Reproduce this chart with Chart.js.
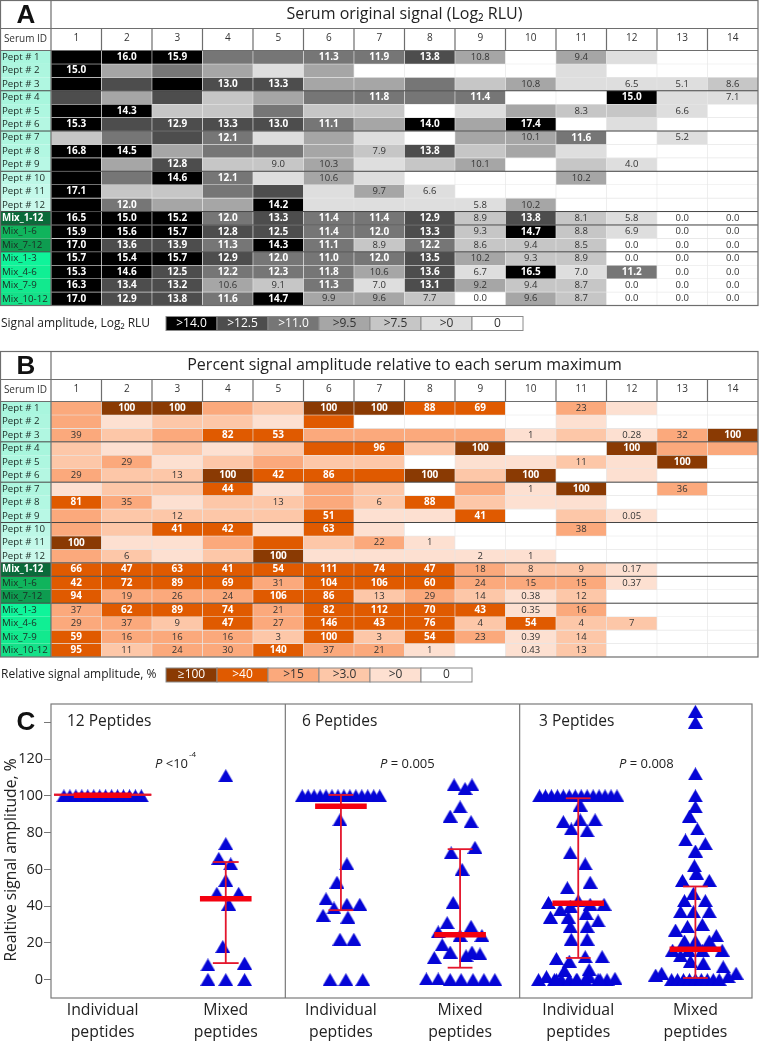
<!DOCTYPE html>
<html>
<head>
<meta charset="utf-8">
<title>Serum signal</title>
<script src="https://cdn.jsdelivr.net/npm/chart.js@4"></script>
<style>
  body { margin: 0; background: #fff; }
  canvas { position: absolute; left: 0; }
</style>
</head>
<body>
<canvas id="tableA" width="760" height="345" style="top:0"></canvas>
<canvas id="tableB" width="760" height="345" style="top:345px"></canvas>
<canvas id="swarm" width="760" height="351" style="top:690px"></canvas>
<script>
const serumIds = ['1','2','3','4','5','6','7','8','9','10','11','12','13','14']
const rowLabels = ['Pept # 1','Pept # 2','Pept # 3','Pept # 4','Pept # 5','Pept # 6','Pept # 7','Pept # 8','Pept # 9','Pept # 10','Pept # 11','Pept # 12',
  'Mix_1-12','Mix_1-6','Mix_7-12','Mix_1-3','Mix_4-6','Mix_7-9','Mix_10-12']
const rowColors = ['#a9f6de','#adf6df','#b0f7e1','#a8f6dd','#aef7e0','#b4f7e2','#aef6df','#b2f7e2','#b8f8e5','#bdf8e7','#c4f9ea','#caf9ec',
  '#0a6b3a','#10b45c','#0e9c50','#0ff49a','#10ef94','#12e98e','#14e088']

// grey class of each cell, 6 = black ... 0 = white
const tiersA = [
  [6,6,6,4,4,4,4,5,3,0,3,1,0,0],
  [6,3,4,3,1,3,0,0,0,0,1,0,0,0],
  [6,5,6,5,5,3,3,4,2,3,1,1,1,2],
  [5,3,5,2,3,4,4,4,4,0,0,6,1,1],
  [6,6,2,2,4,2,2,0,1,3,2,2,1,0],
  [6,5,5,5,5,4,3,6,3,6,0,1,0,0],
  [2,4,5,4,1,3,1,0,3,3,4,0,1,0],
  [6,6,3,4,4,3,2,5,2,3,1,0,0,0],
  [6,3,5,2,2,3,1,2,3,0,2,1,0,0],
  [6,4,6,4,1,3,1,0,0,0,3,0,0,0],
  [6,2,2,4,5,1,3,1,0,0,0,0,0,0],
  [6,4,3,3,6,1,1,1,1,3,0,0,0,0],
  [6,6,6,4,5,4,4,5,2,5,2,1,0,0],
  [6,6,6,5,5,4,4,5,2,6,2,1,0,0],
  [6,5,5,4,6,4,2,4,2,2,2,0,0,0],
  [6,6,6,5,4,4,4,5,3,2,2,0,0,0],
  [6,6,5,4,4,4,3,5,1,6,1,4,0,0],
  [6,5,5,3,2,4,1,5,3,2,2,0,0,0],
  [6,5,5,4,6,3,3,2,0,3,2,0,0,0]
]
const valuesA = [
  ['','16.0','15.9','','','11.3','11.9','13.8','10.8','','9.4','','',''],
  ['15.0','','','','','','','','','','','','',''],
  ['','','','13.0','13.3','','','','','10.8','','6.5','5.1','8.6'],
  ['','','','','','','11.8','','11.4','','','15.0','','7.1'],
  ['','14.3','','','','','','','','','8.3','','6.6',''],
  ['15.3','','12.9','13.3','13.0','11.1','','14.0','','17.4','','','',''],
  ['','','','12.1','','','','','','10.1','11.6','','5.2',''],
  ['16.8','14.5','','','','','7.9','13.8','','','','','',''],
  ['','','12.8','','9.0','10.3','','','10.1','','','4.0','',''],
  ['','','14.6','12.1','','10.6','','','','','10.2','','',''],
  ['17.1','','','','','','9.7','6.6','','','','','',''],
  ['','12.0','','','14.2','','','','5.8','10.2','','','',''],
  ['16.5','15.0','15.2','12.0','13.3','11.4','11.4','12.9','8.9','13.8','8.1','5.8','0.0','0.0'],
  ['15.9','15.6','15.7','12.8','12.5','11.4','12.0','13.3','9.3','14.7','8.8','6.9','0.0','0.0'],
  ['17.0','13.6','13.9','11.3','14.3','11.1','8.9','12.2','8.6','9.4','8.5','0.0','0.0','0.0'],
  ['15.7','15.4','15.7','12.9','12.0','11.0','12.0','13.5','10.2','9.3','8.9','0.0','0.0','0.0'],
  ['15.3','14.6','12.5','12.2','12.3','11.8','10.6','13.6','6.7','16.5','7.0','11.2','0.0','0.0'],
  ['16.3','13.4','13.2','10.6','9.1','11.3','7.0','13.1','9.2','9.4','8.7','0.0','0.0','0.0'],
  ['17.0','12.9','13.8','11.6','14.7','9.9','9.6','7.7','0.0','9.6','8.7','0.0','0.0','0.0']
]
const colorsA = ['#ffffff','#dedede','#c6c6c6','#a6a6a6','#767676','#4d4d4d','#000000']
const legendA = ['0','>0','>7.5','>9.5','>11.0','>12.5','>14.0']

const tiersB = [
  [3,5,5,3,2,5,5,4,4,0,3,1,0,0],
  [3,1,2,2,1,4,0,0,0,0,1,0,0,0],
  [3,2,3,4,4,3,3,3,3,1,2,1,3,5],
  [2,1,2,1,2,4,4,2,5,0,0,5,3,3],
  [2,3,1,2,3,2,2,0,1,1,2,1,5,0],
  [3,2,2,5,4,4,4,5,2,5,0,1,0,0],
  [1,2,2,4,1,3,2,0,3,1,5,0,3,0],
  [4,3,1,2,2,3,2,4,2,1,1,0,0,0],
  [3,2,2,2,2,4,1,1,4,0,2,1,0,0],
  [3,2,4,4,1,4,1,0,0,0,3,0,0,0],
  [5,1,1,3,4,2,3,1,0,0,0,0,0,0],
  [3,2,1,2,5,1,1,1,1,1,0,0,0,0],
  [4,4,4,4,4,4,4,4,3,2,2,1,0,0],
  [4,4,4,4,3,4,4,4,3,3,3,1,0,0],
  [4,3,3,3,4,4,2,3,2,1,2,0,0,0],
  [3,4,4,4,3,4,4,4,4,1,3,0,0,0],
  [3,3,2,4,3,4,4,4,2,4,2,2,0,0],
  [4,3,3,3,2,4,2,4,3,1,2,0,0,0],
  [4,2,3,3,4,3,3,1,0,1,2,0,0,0]
]
const valuesB = [
  ['','100','100','','','100','100','88','69','','23','','',''],
  ['','','','','','','','','','','','','',''],
  ['39','','','82','53','','','','','1','','0.28','32','100'],
  ['','','','','','','96','','100','','','100','',''],
  ['','29','','','','','','','','','11','','100',''],
  ['29','','13','100','42','86','','100','','100','','','',''],
  ['','','','44','','','','','','1','100','','36',''],
  ['81','35','','','13','','6','88','','','','','',''],
  ['','','12','','','51','','','41','','','0.05','',''],
  ['','','41','42','','63','','','','','38','','',''],
  ['100','','','','','','22','1','','','','','',''],
  ['','6','','','100','','','','2','1','','','',''],
  ['66','47','63','41','54','111','74','47','18','8','9','0.17','',''],
  ['42','72','89','69','31','104','106','60','24','15','15','0.37','',''],
  ['94','19','26','24','106','86','13','29','14','0.38','12','','',''],
  ['37','62','89','74','21','82','112','70','43','0.35','16','','',''],
  ['29','37','9','47','27','146','43','76','4','54','4','7','',''],
  ['59','16','16','16','3','100','3','54','23','0.39','14','','',''],
  ['95','11','24','30','140','37','21','1','','0.43','13','','','']
]
const colorsB = ['#ffffff','#fde0d1','#fdc7a8','#fba97c','#e05a00','#8a3a03']
const legendB = ['0','>0','>3.0','>15','>40','≥100']

// swarm values, one pair of lists per group, offsets are sideways spread
const topRow = [100,100,100,100,100,100,100,100,100,100,100,100,100,100]
const topRowOffsets = [-39,-33,-27,-21,-15,-9,-3,3,9,15,21,27,33,39]

const mixed12 = [111,74,66,63,54,47,47,41,18,8,9,0.17,0,0]
const mixed12Offsets = [0,0,-7,5,0,-9,13,3,-3,-18,19,-18,0,19]

const indiv6 = [87,63,53,44,39,41,41,35,34,22,22,0,0,0]
const indiv6Offsets = [-1,6,-4,-15,-7,6,19,-18,7,-1,13,-11,5,22]

const mixed6 = [106,106,104,94,89,86,72,69,60,42,31,29,26,24,24,19,15,15,14,13,12,0.38,0.37,0,0,0,0,0]
const mixed6Offsets = [-6,12,5,0,-10,11,15,-9,2,-7,-13,11,-22,22,0,-18,-10,12,20,6,-26,-34,-22,-10,1,13,24,35]

const indiv3 = [95,87,86,87,82,81,69,63,53,50,43,42,41,41,40,38,36,34,34,32,29,29,22,22,12.5,12.5,11.5,10,5.5,5,1.6,1.6,0.7,0,0,0,0,0,0,0,0,0,0,0]
const indiv3Offsets = [2,17,-15,2,-7,9,-8,7,12,-11,0,-30,26,12,-8,-18,8,-28,-10,20,-8,9,-7,9,24,7,-22,-9,11,-14,-32,11,37,-40,-24,-17,-9,-1,7,20,29,-22,-2,22]

const mixed3 = [146,140,112,100,94,89,82,76,74,70,62,58,54,54,47,43,43,37,37,37,30,29,27,24,21,21,21,16,16,16,16,13,10,9,7,3.5,3.5,2.5,1.6,0,0,0,0,0,0,0,0,0]
const mixed3Offsets = [0,0,0,0,0,-6,2,-10,10,0,-1,1,-13,14,-2,-11,10,-15,-2,14,7,-8,-20,21,-11,0,14,-23,-7,7,27,-15,-5,8,28,-34,41,-40,33,-24,-18,-12,-6,0,6,12,18,24]

const groupValues = [topRow, mixed12, topRow.concat(indiv6), mixed6, topRow.concat(indiv3), mixed3]
const groupOffsets = [topRowOffsets, mixed12Offsets, topRowOffsets.concat(indiv6Offsets), mixed6Offsets, topRowOffsets.concat(indiv3Offsets), mixed3Offsets]
const groupCenters = [52,176,292,412,531,649]
const groupLabels = [['Individual','peptides'],['Mixed','peptides']]

const medians = [100.3,44,94.4,24.4,41.6,16.5]
const upper = [100.6,64,100.5,71,98.7,50.7]
const lower = [100.6,9,37.8,6.5,11.8,0.9]
const yTicks = [0,20,40,60,80,100,120,140]

const fontFamily = '"Open Sans", sans-serif'

const tableFrame = {
  id: 'tableFrame',
  beforeDraw(chart, args, opts) {
    const { ctx, chartArea: a, scales } = chart
    rowColors.forEach((c, i) => {
      const y0 = scales.y.getPixelForValue(i)
      const y1 = scales.y.getPixelForValue(i + 1)
      ctx.fillStyle = c
      ctx.fillRect(0, y0, a.left, y1 - y0)
    })
  },
  afterDatasetsDraw(chart, args, opts) {
    const { ctx, scales } = chart
    ctx.save()
    ctx.textAlign = 'center'
    ctx.textBaseline = 'middle'
    opts.values.forEach((row, r) => {
      row.forEach((txt, c) => {
        if (!txt) return
        const light = opts.tiers[r][c] >= opts.whiteFrom
        ctx.font = (light ? 'bold 10px ' : '9.5px ') + fontFamily
        ctx.fillStyle = light ? '#fff' : '#333'
        ctx.fillText(txt, scales.x.getPixelForValue(c), scales.y.getPixelForValue(r + 0.5))
      })
    })
    ctx.restore()
  },
  afterDraw(chart, args, opts) {
    const { ctx, chartArea: a, scales } = chart
    const frameTop = a.top - 50
    const headBottom = a.top - 22
    ctx.save()

    // heavier lines between peptide groups
    ctx.strokeStyle = '#444'
    ctx.lineWidth = 1
    ;[3,6,9,12,13,15].forEach(r => {
      const y = scales.y.getPixelForValue(r)
      ctx.beginPath(); ctx.moveTo(0, y); ctx.lineTo(a.right, y); ctx.stroke()
    })

    ctx.strokeStyle = '#6e6e6e'
    ctx.lineWidth = 1.2
    ctx.strokeRect(0.5, frameTop, a.right - 0.5, a.bottom - frameTop)
    ctx.beginPath()
    ctx.moveTo(a.left, frameTop); ctx.lineTo(a.left, a.bottom)
    ctx.moveTo(0, headBottom); ctx.lineTo(a.right, headBottom)
    ctx.moveTo(0, a.top); ctx.lineTo(a.right, a.top)
    serumIds.forEach((s, i) => {
      if (i === 0) return
      const x = (scales.x.getPixelForValue(i - 1) + scales.x.getPixelForValue(i)) / 2
      ctx.moveTo(x, headBottom); ctx.lineTo(x, a.top)
    })
    ctx.stroke()

    ctx.fillStyle = '#111'
    ctx.textAlign = 'center'
    ctx.textBaseline = 'middle'
    ctx.font = 'bold 26px "Liberation Sans", sans-serif'
    ctx.fillText(opts.letter, 26, frameTop + 15)
    ctx.font = '16px ' + fontFamily
    ctx.fillStyle = '#222'
    ctx.fillText(opts.title, (a.left + a.right) / 2, frameTop + 14)
    ctx.font = '10px ' + fontFamily
    ctx.fillStyle = '#333'
    ctx.fillText('Serum ID', 25.5, a.top - 11)

    // legend strip under the table
    ctx.textAlign = 'left'
    ctx.font = '12px ' + fontFamily
    ctx.fillStyle = '#222'
    ctx.fillText(opts.legendTitle, 1, a.bottom + 18)
    ctx.textAlign = 'center'
    const n = opts.legend.length
    for (let i = 0; i < n; i++) {
      const t = n - 1 - i
      const x = 166 + i * 51
      ctx.fillStyle = opts.colors[t]
      ctx.fillRect(x, a.bottom + 11, 51, 14)
      ctx.strokeStyle = '#8a8a8a'
      ctx.lineWidth = 1
      ctx.strokeRect(x, a.bottom + 11, 51, 14)
      ctx.fillStyle = t >= opts.whiteFrom ? '#fff' : '#333'
      ctx.fillText(opts.legend[t], x + 25.5, a.bottom + 18)
    }
    ctx.restore()
  }
}

function heatConfig(tiers, values, colors, legend, whiteFrom, letter, title, legendTitle, topPad, bottomPad) {
  return {
    type: 'bar',
    data: {
      labels: serumIds,
      datasets: tiers.map((row, r) => ({
        data: row.map(() => [r, r + 1]),
        backgroundColor: row.map(t => colors[t]),
        borderColor: '#e6e6e6',
        borderWidth: 0.6,
        borderSkipped: false,
        grouped: false,
        categoryPercentage: 1,
        barPercentage: 1
      }))
    },
    plugins: [tableFrame],
    options: {
      responsive: false,
      animation: false,
      devicePixelRatio: 1,
      events: [],
      layout: { padding: { left: 2, right: 2, top: topPad, bottom: bottomPad } },
      plugins: {
        legend: { display: false },
        tooltip: { enabled: false },
        tableFrame: { tiers, values, colors, legend, whiteFrom, letter, title, legendTitle }
      },
      scales: {
        x: {
          position: 'top',
          grid: { display: false, drawTicks: false },
          border: { display: false },
          afterFit: s => { s.height = 22 },
          ticks: { color: '#333', padding: 6, maxRotation: 0, autoSkip: false, font: { size: 10, family: fontFamily } }
        },
        y: {
          min: 0,
          max: 19,
          reverse: true,
          grid: { display: false },
          border: { display: false },
          afterBuildTicks: a => { a.ticks = rowLabels.map((l, i) => ({ value: i + 0.5 })) },
          afterFit: s => { s.width = 49 },
          ticks: {
            autoSkip: false,
            crossAlign: 'far',
            padding: 0,
            color: c => (c.index === 12 ? '#fff' : '#1c2b24'),
            font: c => ({ size: 9.7, family: fontFamily, weight: c.index === 12 ? 'bold' : 'normal' }),
            callback: v => rowLabels[v - 0.5]
          }
        }
      }
    }
  }
}

new Chart(document.getElementById('tableA'), heatConfig(tiersA, valuesA, colorsA, legendA, 4, 'A',
  'Serum original signal (Log₂ RLU)', 'Signal amplitude, Log₂ RLU', 28.5, 39.5))
new Chart(document.getElementById('tableB'), heatConfig(tiersB, valuesB, colorsB, legendB, 4, 'B',
  'Percent signal amplitude relative to each serum maximum', 'Relative signal amplitude, %', 34.5, 33))

// triangle marker, centred on its own box like the original symbols
const tri = document.createElement('canvas')
tri.width = 15
tri.height = 13
const triCtx = tri.getContext('2d')
triCtx.fillStyle = '#0505d6'
triCtx.beginPath()
triCtx.moveTo(7.5, 0); triCtx.lineTo(15, 13); triCtx.lineTo(0, 13)
triCtx.closePath()
triCtx.fill()

const capHalf = [49,13,12.5,12.5,12.5,12.5]
const medianHalf = [29,26,26,26,26,26]
const swarmSets = []
groupCenters.forEach((c, g) => {
  const redLine = (pts, w) => ({
    data: pts, showLine: true, pointRadius: 0, borderColor: w > 3 ? '#f4000f' : '#e4162c', borderWidth: w, order: 0
  })
  swarmSets.push(redLine([{ x: c - medianHalf[g], y: medians[g] }, { x: c + medianHalf[g], y: medians[g] }], 5.5))
  swarmSets.push(redLine([{ x: c, y: lower[g] }, { x: c, y: upper[g] }], 1.8))
  swarmSets.push(redLine([{ x: c - capHalf[g], y: upper[g] }, { x: c + capHalf[g], y: upper[g] }], 1.8))
  swarmSets.push(redLine([{ x: c - capHalf[g], y: lower[g] }, { x: c + capHalf[g], y: lower[g] }], 1.8))
  swarmSets.push({
    data: groupValues[g].map((v, i) => ({ x: c + groupOffsets[g][i], y: v })),
    pointStyle: tri,
    pointRadius: 7,
    order: 1
  })
})

const panelNotes = {
  id: 'panelNotes',
  afterDraw(chart) {
    const { ctx, chartArea: a, scales } = chart
    ctx.save()
    ctx.strokeStyle = '#7a7a7a'
    ctx.lineWidth = 1.2
    ctx.strokeRect(a.left, a.top, a.right - a.left, a.bottom - a.top)
    ctx.beginPath()
    ;[236,472].forEach(v => {
      const x = scales.x.getPixelForValue(v)
      ctx.moveTo(x, a.top); ctx.lineTo(x, a.bottom)
    })
    ctx.stroke()

    ctx.fillStyle = '#111'
    ctx.textBaseline = 'middle'
    ctx.font = 'bold 26px "Liberation Sans", sans-serif'
    ctx.textAlign = 'center'
    ctx.fillText('C', 26, 33)

    // axis title sits a little below the axis middle in the original
    ctx.fillStyle = '#222'
    ctx.font = '15.7px ' + fontFamily
    ctx.save()
    ctx.translate(12, 170)
    ctx.rotate(-Math.PI / 2)
    ctx.fillText('Realtive signal amplitude, %', 0, 0)
    ctx.restore()

    ctx.textAlign = 'left'
    ctx.font = '15.5px ' + fontFamily
    ctx.fillText('12 Peptides', 67, 32)
    ctx.fillText('6 Peptides', 302, 32)
    ctx.fillText('3 Peptides', 539, 32)

    const pText = (x, rest) => {
      ctx.font = 'italic 13px ' + fontFamily
      ctx.fillText('P', x, 74)
      const w = ctx.measureText('P ').width
      ctx.font = '13px ' + fontFamily
      ctx.fillText(rest, x + w, 74)
      return x + w + ctx.measureText(rest).width
    }
    const end = pText(155, '<10')
    ctx.font = '8px ' + fontFamily
    ctx.fillText('-4', end + 1, 65)
    pText(380, '= 0.005')
    pText(619, '= 0.008')
    ctx.restore()
  }
}

new Chart(document.getElementById('swarm'), {
  type: 'scatter',
  data: { datasets: swarmSets },
  plugins: [panelNotes],
  options: {
    responsive: false,
    animation: false,
    devicePixelRatio: 1,
    events: [],
    clip: false,
    layout: { padding: { top: 14, right: 3, bottom: 0, left: 0 } },
    plugins: { legend: { display: false }, tooltip: { enabled: false } },
    scales: {
      x: {
        type: 'linear',
        min: 0,
        max: 706,
        grid: { display: false, drawTicks: false },
        border: { display: false },
        afterBuildTicks: a => { a.ticks = groupCenters.map(v => ({ value: v })) },
        afterFit: s => { s.height = 43 },
        ticks: {
          autoSkip: false,
          maxRotation: 0,
          padding: 1,
          color: '#222',
          font: { size: 15.8, family: fontFamily, lineHeight: 1.4 },
          callback: v => groupLabels[groupCenters.indexOf(v) % 2]
        }
      },
      y: {
        min: -10,
        max: 150,
        border: { display: false },
        grid: { drawOnChartArea: false, color: '#777', tickLength: 7 },
        afterBuildTicks: a => { a.ticks = yTicks.map(v => ({ value: v })) },
        afterFit: s => { s.width = 51 },
        ticks: {
          autoSkip: false,
          padding: 1,
          color: '#222',
          font: { size: 14.5, family: fontFamily },
          callback: v => (v === 140 ? '' : v)
        }
      }
    }
  }
})
</script>
</body>
</html>
